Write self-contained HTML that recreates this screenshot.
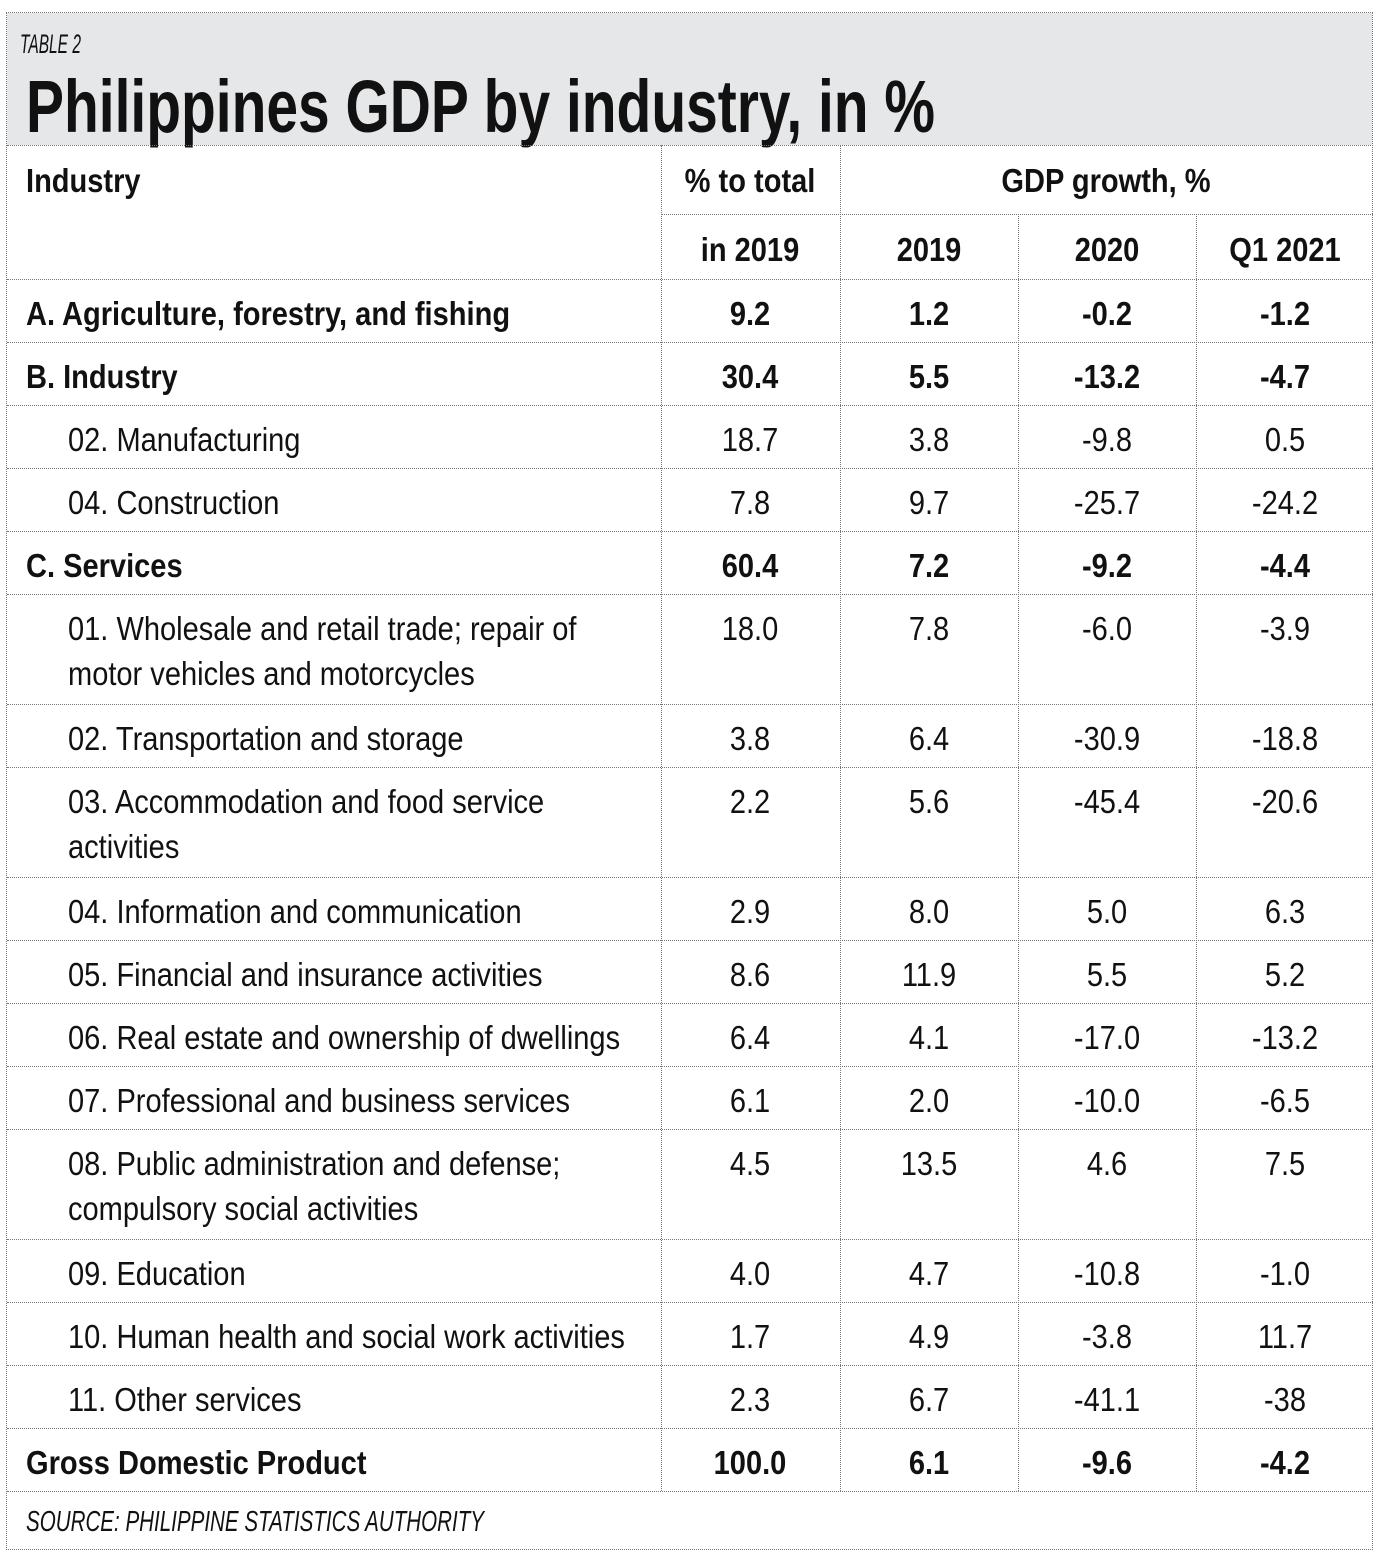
<!DOCTYPE html>
<html><head><meta charset="utf-8">
<style>
html,body{margin:0;padding:0;background:#fff;}
body{width:1381px;height:1558px;position:relative;overflow:hidden;font-family:"Liberation Sans",sans-serif;color:#111;}
.box{position:absolute;left:6px;top:12px;width:1367px;height:1538px;border:1px dotted #777;box-sizing:border-box;}
.band{position:absolute;left:7px;top:13px;width:1365px;height:132px;background:#e6e7e9;}
.hl{position:absolute;height:0;border-top:1px dotted #777;}
.vl{position:absolute;width:0;border-left:1px dotted #777;}
.t{position:absolute;white-space:nowrap;line-height:1;font-size:33px;}
.b{font-weight:bold;}
.c{transform:translateX(-50%) scaleX(0.88);}
.l{transform-origin:0 0;transform:scaleX(0.88);}
.fit{transform-origin:0 0;}
</style></head><body>
<div class="band"></div>
<div class="box"></div>
<div class="t fit" id="tbl2" data-w="61" style="left:20px;top:31px;font-size:27px;font-style:italic;">TABLE 2</div>
<div class="t fit b" id="title" data-w="909" style="left:26px;top:70px;font-size:74px;">Philippines GDP by industry, in %</div>
<div class="t b l" style="left:26px;top:164px;">Industry</div>
<div class="t b c" style="left:750px;top:164px;">% to total</div>
<div class="t b c" style="left:1106px;top:164px;">GDP growth, %</div>
<div class="t b c" style="left:750px;top:233px;">in 2019</div>
<div class="t b c" style="left:929px;top:233px;">2019</div>
<div class="t b c" style="left:1107px;top:233px;">2020</div>
<div class="t b c" style="left:1285px;top:233px;">Q1 2021</div>
<div class="t fit" id="src" data-w="458" style="left:26px;top:1508px;font-size:29px;font-style:italic;">SOURCE: PHILIPPINE STATISTICS AUTHORITY</div>
<div id="rows"></div>
<script>
const labels=[["A. Agriculture, forestry, and fishing"],["B. Industry"],["02. Manufacturing"],["04. Construction"],["C. Services"],["01. Wholesale and retail trade; repair of","motor vehicles and motorcycles"],["02. Transportation and storage"],["03. Accommodation and food service","activities"],["04. Information and communication"],["05. Financial and insurance activities"],["06. Real estate and ownership of dwellings"],["07. Professional and business services"],["08. Public administration and defense;","compulsory social activities"],["09. Education"],["10. Human health and social work activities"],["11. Other services"],["Gross Domestic Product"]];
const share2019=["9.2","30.4","18.7","7.8","60.4","18.0","3.8","2.2","2.9","8.6","6.4","6.1","4.5","4.0","1.7","2.3","100.0"];
const growth2019=["1.2","5.5","3.8","9.7","7.2","7.8","6.4","5.6","8.0","11.9","4.1","2.0","13.5","4.7","4.9","6.7","6.1"];
const growth2020=["-0.2","-13.2","-9.8","-25.7","-9.2","-6.0","-30.9","-45.4","5.0","5.5","-17.0","-10.0","4.6","-10.8","-3.8","-41.1","-9.6"];
const growthQ1=["-1.2","-4.7","0.5","-24.2","-4.4","-3.9","-18.8","-20.6","6.3","5.2","-13.2","-6.5","7.5","-1.0","11.7","-38","-4.2"];
const boldRows=[true,true,false,false,true,false,false,false,false,false,false,false,false,false,false,false,true];
const root=document.getElementById('rows');
const colCenters=[750,929,1107,1285];
const cols=[share2019,growth2019,growth2020,growthQ1];
const colNames=['share-2019','growth-2019','growth-2020','growth-q1-2021'];
function line(cls,style){const d=document.createElement('div');d.className=cls;d.setAttribute('style',style);root.appendChild(d);return d;}
// grid
let y=279;
const tops=[];
labels.forEach((lab)=>{tops.push(y);y+=lab.length>1?110:63;});
tops.push(y);
let hl=line('hl','left:7px;width:1366px;top:145px;');


hl=line('hl','left:661px;width:712px;top:214px;');


tops.forEach(t=>{const h=line('hl','left:7px;width:1366px;top:'+t+'px;');

});
let v=line('vl','left:661px;top:145px;height:'+(tops[tops.length-1]-145)+'px;');


v=line('vl','left:840px;top:145px;height:'+(tops[tops.length-1]-145)+'px;');


[1018,1196].forEach(x=>{const w=line('vl','left:'+x+'px;top:214px;height:'+(tops[tops.length-1]-214)+'px;');

});
labels.forEach((lab,i)=>{
  const t=tops[i];const b=boldRows[i];
  lab.forEach((txt,k)=>{
    const d=document.createElement('div');
    d.className='t l'+(b?' b':'');
    d.style.left=(b?26:68)+'px';d.style.top=(t+18+k*45)+'px';
    d.textContent=txt;
    
    
    root.appendChild(d);
  });
  cols.forEach((arr,j)=>{
    const d=document.createElement('div');
    d.className='t c'+(b?' b':'');
    d.style.left=colCenters[j]+'px';d.style.top=(t+18)+'px';
    d.textContent=arr[i];
    
    
    root.appendChild(d);
  });
});
document.querySelectorAll('.fit').forEach(el=>{const w=el.getBoundingClientRect().width;el.style.transform='scaleX('+(parseFloat(el.dataset.w)/w)+')';});
</script>
</body></html>
